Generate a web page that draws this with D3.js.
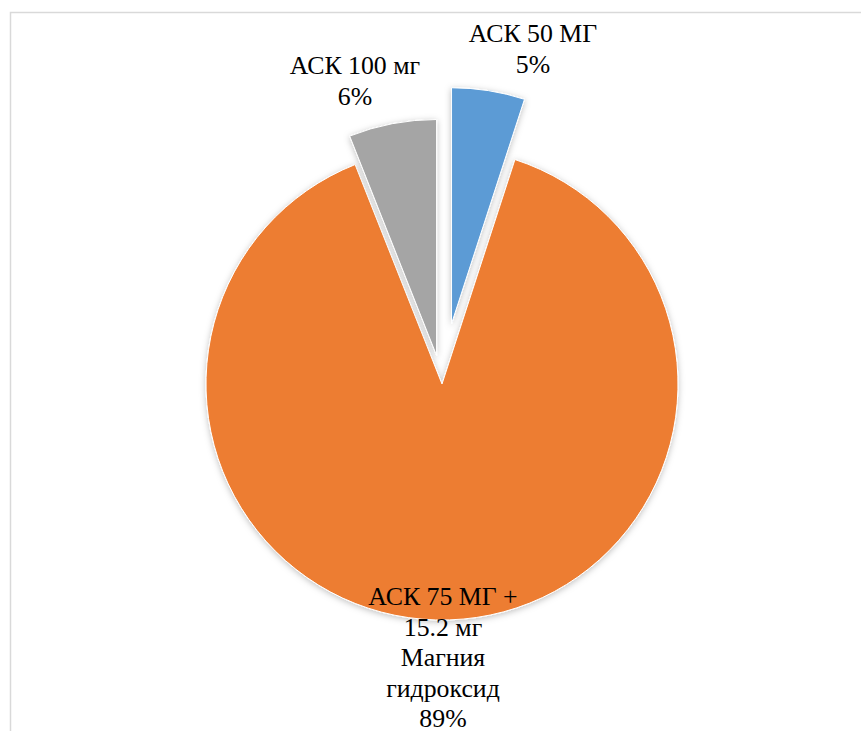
<!DOCTYPE html>
<html>
<head>
<meta charset="utf-8">
<script src="https://cdn.jsdelivr.net/npm/d3@7"></script>
<style>
  html, body { margin: 0; padding: 0; background: #ffffff; }
  svg { display: block; }
</style>
</head>
<body>
<svg id="chart" width="861" height="731"></svg>
<script>
// Доли пациентов по схеме приёма АСК
const categories = ["АСК 50 МГ", "АСК 75 МГ + 15.2 мг Магния гидроксид", "АСК 100 мг"];
const shares = [5, 89, 6];
const colors = ["#5B9BD5", "#ED7D31", "#A5A5A5"];
const explode = [61, 0, 29];
// Label lines (category split as drawn) with the percent appended below
const labelLines = [
  ["АСК 50 МГ"],
  ["АСК 75 МГ +", "15.2 мг", "Магния", "гидроксид"],
  ["АСК 100 мг"]
];

const W = 861, H = 731;
const cx = 442, cy = 384, R = 236;
const fontSize = 25.8, lineH = 30.5;
// label anchor: x centre and baseline of the first line
const labelAnchors = [
  { x: 533, y: 42 },
  { x: 443, y: 605 },
  { x: 355, y: 74 }
];

const svg = d3.select("#chart");

// chart frame
svg.append("rect")
  .attr("x", 10.5).attr("y", 12.5)
  .attr("width", 1000).attr("height", 1000)
  .attr("fill", "none")
  .attr("stroke", "#d9d9d9")
  .attr("stroke-width", 1.5);

const defs = svg.append("defs");
const f = defs.append("filter").attr("id", "softShadow")
  .attr("x", "-20%").attr("y", "-20%").attr("width", "140%").attr("height", "140%");
f.append("feDropShadow")
  .attr("dx", 0).attr("dy", 1.5)
  .attr("stdDeviation", 3)
  .attr("flood-color", "#000").attr("flood-opacity", 0.25);

const pie = d3.pie().sort(null).value(d => d);
const arcs = pie(shares);
const arc = d3.arc().innerRadius(0).outerRadius(R);

const g = svg.append("g").attr("transform", `translate(${cx},${cy})`);

g.selectAll("path.slice")
  .data(arcs)
  .join("path")
  .attr("class", "slice")
  .attr("d", arc)
  .attr("fill", (d, i) => colors[i])
  .attr("stroke", "#ffffff")
  .attr("stroke-width", 1)
  .attr("filter", "url(#softShadow)")
  .attr("transform", (d, i) => {
    const mid = (d.startAngle + d.endAngle) / 2;
    return `translate(${Math.sin(mid) * explode[i]},${-Math.cos(mid) * explode[i]})`;
  });

// data labels
const total = d3.sum(shares);
const fmt = v => Math.round(v / total * 100) + "%";
labelLines.forEach((lines, i) => {
  const all = lines.concat([fmt(shares[i])]);
  const t = svg.append("text")
    .attr("text-anchor", "middle")
    .attr("font-family", "'Liberation Serif', 'Times New Roman', serif")
    .attr("font-size", fontSize)
    .attr("fill", "#000000");
  all.forEach((s, k) => {
    t.append("tspan")
      .attr("x", labelAnchors[i].x)
      .attr("y", labelAnchors[i].y + k * lineH)
      .text(s);
  });
});
</script>
</body>
</html>
